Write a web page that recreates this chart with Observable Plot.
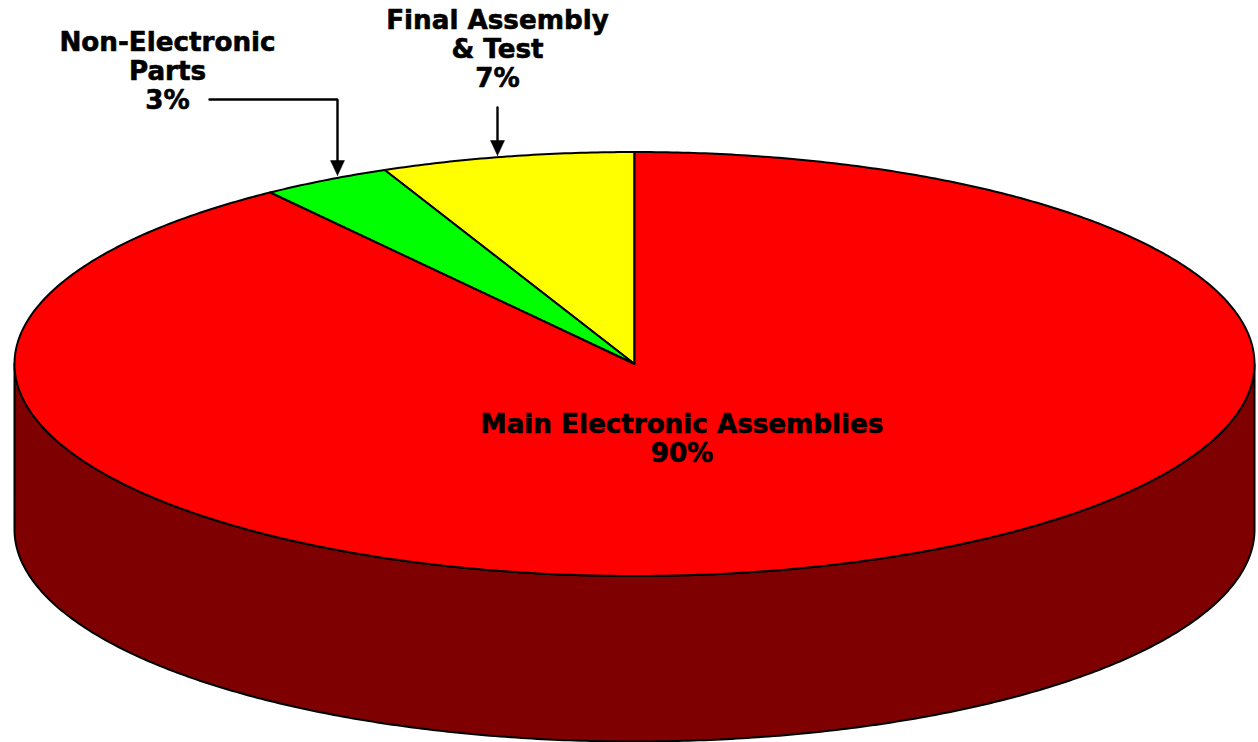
<!DOCTYPE html>
<html>
<head>
<meta charset="utf-8">
<style>html,body{margin:0;padding:0;background:#fff}svg{display:block}</style>
<script src="https://cdn.jsdelivr.net/npm/d3@7"></script>
<script src="https://cdn.jsdelivr.net/npm/@observablehq/plot@0.6"></script>
</head>
<body>
<script>
// Slices, counter-clockwise from 12 o'clock (sweeps)
const parts = ["Final Assembly & Test", "Non-Electronic Parts", "Main Electronic Assemblies"];
const shares = [6.6, 3.4, 90];
const partColors = ["#ffff00", "#00ff00", "#ff0000"];
const sideColor = "#7f0000";

// Labels
const labelTexts = ["Final Assembly\n& Test\n7%", "Non-Electronic\nParts\n3%", "Main Electronic Assemblies\n90%"];
const labelX = [497, 167, 681.5];
const labelY = [48, 70, 438];

// Pie geometry in chart units
const cx = 634, cy = 363.5, rx = 620, ry = 212, depth = 165.5;

const W = 1258, H = 742;
const rim = (deg, dy = 0) => {
  const a = deg * Math.PI / 180;
  return {x: cx - rx * Math.sin(a), y: cy - ry * Math.cos(a) + dy};
};

// Top face wedges
let cum = 0;
const wedges = [];
parts.forEach((part, i) => {
  const from = cum, to = cum + shares[i] * 3.6;
  cum = to;
  wedges.push({part, x: cx, y: cy});
  const n = Math.ceil((to - from) / 0.5);
  for (let k = 0; k <= n; k++) wedges.push({part, ...rim(from + (to - from) * k / n)});
  wedges.push({part, x: cx, y: cy});
});

// Side wall: front half of the rim, dropped by the depth
const side = [];
for (let d = 90; d <= 270; d += 0.5) side.push({part: "side", ...rim(d)});
for (let d = 270; d >= 90; d -= 0.5) side.push({part: "side", ...rim(d, depth)});
side.push(side[0]);

const labels = labelTexts.map((text, i) => ({text, x: labelX[i], y: labelY[i]}));

// Callouts
const leaders = [
  {id: 0, x: 209, y: 99}, {id: 0, x: 337, y: 99}, {id: 0, x: 337, y: 163},
  {id: 1, x: 497, y: 107}, {id: 1, x: 497, y: 143}
];
const heads = [
  {id: 0, x: 337, y: 175}, {id: 0, x: 330, y: 160}, {id: 0, x: 344, y: 160}, {id: 0, x: 337, y: 175},
  {id: 1, x: 497, y: 155}, {id: 1, x: 490, y: 140}, {id: 1, x: 504, y: 140}, {id: 1, x: 497, y: 155}
];

const chart = Plot.plot({
  width: W, height: H,
  margin: 0,
  style: {background: "#fff", overflow: "visible"},
  x: {domain: [0, W], range: [0, W], axis: null},
  y: {domain: [0, H], range: [0, H], axis: null},
  color: {domain: [...parts, "side"], range: [...partColors, sideColor]},
  marks: [
    Plot.line(side, {x: "x", y: "y", z: "part", fill: "part", stroke: "black", strokeWidth: 2, strokeLinejoin: "round"}),
    Plot.line(wedges, {x: "x", y: "y", z: "part", fill: "part", stroke: "black", strokeWidth: 2, strokeLinejoin: "round"}),
    Plot.line(leaders, {x: "x", y: "y", z: "id", stroke: "black", strokeWidth: 2.4, strokeLinejoin: "miter"}),
    Plot.line(heads, {x: "x", y: "y", z: "id", fill: "black", stroke: "black", strokeWidth: 0.5}),
    Plot.text(labels, {x: "x", y: "y", text: "text", fontFamily: "DejaVu Sans", fontWeight: "bold", fontSize: 26.2, lineHeight: 1.105, fill: "black", stroke: "black", strokeWidth: 0.6, textAnchor: "middle", lineAnchor: "middle"})
  ]
});
document.body.appendChild(chart);
</script>
</body>
</html>
